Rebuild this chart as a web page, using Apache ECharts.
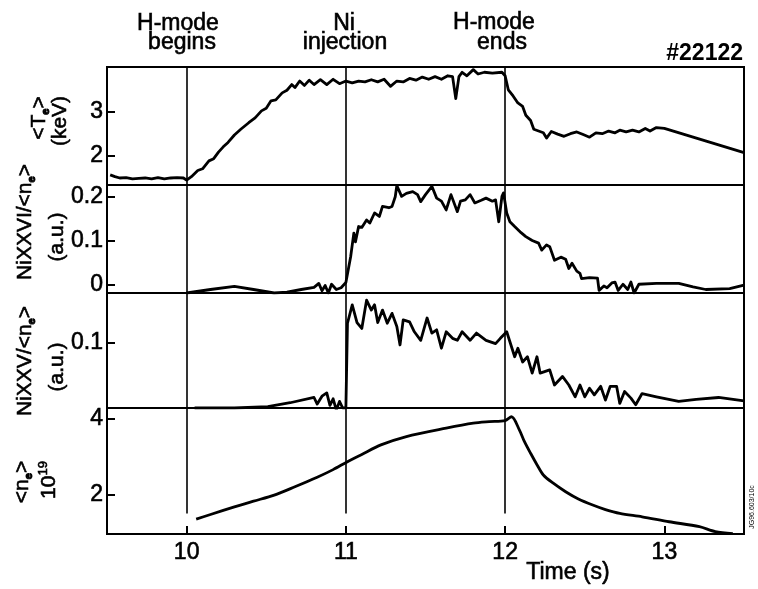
<!DOCTYPE html>
<html>
<head>
<meta charset="utf-8">
<script src="https://cdn.jsdelivr.net/npm/echarts@6/dist/echarts.min.js"></script>
<style>
html,body{margin:0;padding:0;background:#fff;}
#chart{width:758px;height:589px;}
</style>
</head>
<body>
<div id="chart"></div>
<script>
// ---- data (time in s) ----
const timeMin = 9.5, timeMax = 13.5;
const timeTicks = [10, 11, 12, 13];
const eventTimes = [10, 11, 12];
const eventLabels = [["H-mode", "begins"], ["Ni", "injection"], ["H-mode", "ends"]];
const shotLabel = "#22122";

// <Te> (keV)
const teData = [[9.52,1.56],[9.55,1.52],[9.58,1.49],[9.62,1.50],[9.66,1.47],[9.70,1.48],[9.74,1.49],[9.78,1.47],[9.82,1.50],[9.86,1.47],[9.90,1.49],[9.94,1.50],[9.98,1.49],[10.0,1.44],
[10.03,1.52],[10.07,1.66],[10.10,1.70],[10.14,1.88],[10.17,1.93],[10.20,2.08],[10.23,2.20],[10.26,2.30],[10.30,2.47],[10.34,2.60],[10.39,2.75],[10.43,2.86],[10.47,3.02],[10.50,3.08],[10.53,3.25],[10.56,3.27],[10.60,3.43],[10.63,3.49],[10.66,3.62],
[10.68,3.55],[10.71,3.70],[10.74,3.60],[10.77,3.72],[10.80,3.62],[10.84,3.73],[10.88,3.62],[10.92,3.74],[10.96,3.64],[11.0,3.70],[11.04,3.66],[11.08,3.70],[11.12,3.68],[11.16,3.73],[11.20,3.68],[11.24,3.74],[11.28,3.58],[11.32,3.70],[11.36,3.68],[11.40,3.76],[11.44,3.72],[11.48,3.79],[11.52,3.74],[11.56,3.80],[11.60,3.74],[11.64,3.82],[11.67,3.80],[11.69,3.30],[11.71,3.80],[11.73,3.90],[11.76,3.82],[11.80,3.96],[11.83,3.86],[11.87,3.90],[11.92,3.88],[11.98,3.90],[12.0,3.82],
[12.02,3.50],[12.05,3.36],[12.08,3.20],[12.11,3.12],[12.13,2.92],[12.16,2.80],[12.18,2.60],[12.21,2.56],[12.24,2.52],[12.26,2.40],[12.29,2.55],[12.33,2.49],[12.37,2.44],[12.41,2.50],[12.45,2.54],[12.49,2.48],[12.53,2.42],[12.57,2.52],[12.61,2.50],[12.65,2.56],[12.69,2.52],[12.72,2.58],[12.76,2.54],[12.80,2.58],[12.84,2.54],[12.88,2.62],[12.91,2.56],[12.95,2.64],[13.0,2.62],[13.5,2.07]];

// NiXXVI/<ne> (a.u.)
const ni26Data = [[10.0,-0.02],[10.15,-0.012],[10.30,-0.005],[10.42,-0.012],[10.55,-0.02],[10.63,-0.018],[10.72,-0.012],[10.80,-0.007],[10.83,0.002],[10.85,-0.015],[10.87,-0.003],[10.89,-0.02],[10.91,0.0],[10.94,-0.012],[10.97,-0.008],[11.0,0.004],
[11.03,0.063],[11.05,0.117],[11.06,0.097],[11.08,0.132],[11.10,0.130],[11.13,0.147],[11.15,0.140],[11.18,0.163],[11.21,0.155],[11.23,0.178],[11.27,0.175],[11.29,0.178],[11.31,0.200],[11.32,0.226],[11.35,0.201],[11.38,0.208],[11.42,0.212],[11.45,0.205],[11.47,0.189],[11.50,0.205],[11.54,0.224],[11.57,0.197],[11.60,0.190],[11.63,0.170],[11.66,0.205],[11.70,0.166],[11.72,0.190],[11.75,0.193],[11.78,0.205],[11.81,0.186],[11.85,0.192],[11.88,0.197],[11.92,0.190],[11.94,0.193],[11.96,0.143],[11.98,0.201],[11.99,0.209],
[12.01,0.163],[12.03,0.143],[12.06,0.132],[12.10,0.118],[12.13,0.109],[12.17,0.100],[12.21,0.094],[12.23,0.078],[12.26,0.090],[12.28,0.086],[12.31,0.055],[12.35,0.062],[12.38,0.057],[12.40,0.036],[12.42,0.048],[12.45,0.030],[12.47,0.025],[12.48,0.013],[12.53,0.015],[12.58,0.014],[12.59,-0.014],[12.62,-0.004],[12.64,-0.008],[12.67,0.003],[12.69,0.005],[12.71,-0.014],[12.74,0.0],[12.77,-0.012],[12.79,0.005],[12.81,-0.02],[12.84,0.0],[12.95,0.002],[13.09,0.002],[13.18,-0.006],[13.26,-0.012],[13.41,-0.010],[13.5,-0.002]];

// NiXXV/<ne> (a.u.)
const ni25Data = [[10.05,0.0],[10.3,0.0],[10.51,0.002],[10.65,0.008],[10.80,0.016],[10.82,0.006],[10.85,0.018],[10.88,0.023],[10.90,0.004],[10.92,0.014],[10.94,-0.003],[10.96,0.01],[10.98,0.0],[11.0,0.0],
[11.01,0.129],[11.04,0.157],[11.07,0.130],[11.10,0.121],[11.13,0.164],[11.16,0.149],[11.18,0.157],[11.20,0.130],[11.23,0.149],[11.26,0.129],[11.29,0.144],[11.32,0.124],[11.34,0.096],[11.36,0.134],[11.40,0.131],[11.43,0.116],[11.47,0.103],[11.51,0.137],[11.54,0.114],[11.57,0.119],[11.60,0.091],[11.63,0.116],[11.67,0.106],[11.70,0.103],[11.73,0.116],[11.78,0.103],[11.82,0.114],[11.88,0.103],[11.94,0.098],[11.97,0.106],[12.01,0.116],
[12.02,0.119],[12.06,0.078],[12.08,0.091],[12.11,0.070],[12.14,0.078],[12.17,0.053],[12.20,0.078],[12.22,0.053],[12.28,0.058],[12.31,0.035],[12.36,0.048],[12.40,0.035],[12.44,0.017],[12.47,0.035],[12.50,0.017],[12.53,0.030],[12.56,0.020],[12.60,0.033],[12.63,0.012],[12.66,0.033],[12.70,0.033],[12.72,0.007],[12.75,0.025],[12.79,0.015],[12.82,0.005],[12.86,0.022],[12.95,0.017],[13.09,0.010],[13.2,0.013],[13.34,0.016],[13.5,0.011]];

// <ne> (10^19 m^-3)
const neData = [[10.06,1.35],[10.15,1.47],[10.30,1.67],[10.42,1.82],[10.55,1.98],[10.68,2.20],[10.82,2.45],[10.92,2.65],[11.01,2.86],[11.10,3.05],[11.22,3.30],[11.38,3.52],[11.63,3.74],[11.80,3.87],[11.90,3.91],[12.0,3.94],[12.04,4.04],[12.09,3.69],[12.12,3.40],[12.16,3.08],[12.20,2.78],[12.24,2.51],[12.30,2.30],[12.38,2.07],[12.46,1.88],[12.55,1.72],[12.63,1.60],[12.72,1.50],[12.86,1.41],[13.03,1.28],[13.22,1.15],[13.32,1.02],[13.43,0.97]];

// y axes: ranges and tick values
const yRanges = [[1.33, 4.02], [-0.02, 0.227], [0, 0.175], [0.958, 4.27]];
const yTicks = [[2, 3], [0, 0.1, 0.2], [0.1], [2, 4]];
const neEventLineEnd = 1.5;

const FONT = "'Liberation Sans', Arial, Helvetica, sans-serif";
const grids = [
  {top: 67, height: 118},
  {top: 185, height: 108},
  {top: 293, height: 115},
  {top: 408, height: 126}
];
const seriesData = [teData, ni26Data, ni25Data, neData];

const chart = echarts.init(document.getElementById('chart'));

const labelCommon = {color: '#000', fontSize: 23, fontFamily: FONT, textBorderColor: '#000', textBorderWidth: 0.6};

const option = {
  animation: false,
  backgroundColor: '#fff',
  grid: grids.map(g => ({left: 107, right: 14, top: g.top, height: g.height, show: true, borderColor: '#000', borderWidth: 2, backgroundColor: 'transparent'})),
  xAxis: grids.map((g, i) => ({
    type: 'value', gridIndex: i, min: timeMin, max: timeMax,
    axisLine: {show: false},
    splitLine: {show: false},
    axisTick: {show: i === 3, inside: true, length: 8, lineStyle: {color: '#000', width: 2}, customValues: timeTicks},
    axisLabel: Object.assign({show: i === 3, customValues: timeTicks, margin: 7}, labelCommon)
  })),
  yAxis: grids.map((g, i) => ({
    type: 'value', gridIndex: i, min: yRanges[i][0], max: yRanges[i][1],
    axisLine: {show: false},
    splitLine: {show: false},
    axisTick: {show: true, inside: true, length: 8, lineStyle: {color: '#000', width: 2}, customValues: yTicks[i]},
    axisLabel: Object.assign({show: true, customValues: yTicks[i], margin: 4}, labelCommon)
  })),
  series: seriesData.map((d, i) => ({
    type: 'line', xAxisIndex: i, yAxisIndex: i, data: d, symbol: 'none',
    smooth: i === 3 ? 0.3 : false,
    lineStyle: {color: '#000', width: 2.8, join: 'round'},
    markLine: {
      silent: true, symbol: 'none', label: {show: false},
      lineStyle: {color: '#000', width: 1.6, type: 'solid'},
      data: i < 3 ? eventTimes.map(t => ({xAxis: t}))
                  : eventTimes.map(t => [{coord: [t, yRanges[3][1]]}, {coord: [t, neEventLineEnd]}])
    }
  })),
  graphic: []
};

const G = option.graphic;
const SW = 0.6;
function txt(x, y, text, size) {
  G.push({type: 'text', x: x, y: y, silent: true,
    style: {text: text, fill: '#000', stroke: '#000', lineWidth: SW, fontSize: size, fontFamily: FONT, align: 'center', verticalAlign: 'middle'}});
}
function rtxt(x, y, text, size, rich) {
  G.push({type: 'text', x: x, y: y, rotation: Math.PI / 2, silent: true,
    style: {text: text, fill: '#000', stroke: '#000', lineWidth: SW, fontSize: size, fontFamily: FONT, align: 'center', verticalAlign: 'middle', rich: rich || {}}});
}
// event annotations
txt(178, 24, eventLabels[0][0], 23);
txt(182, 43, eventLabels[0][1], 23);
txt(344, 24, eventLabels[1][0], 23);
txt(345, 43, eventLabels[1][1], 23);
txt(494, 23, eventLabels[2][0], 23);
txt(502, 43, eventLabels[2][1], 23);
G.push({type: 'text', x: 743, y: 54, silent: true, style: {text: shotLabel, fill: '#000', fontSize: 23, fontWeight: 'bold', fontFamily: FONT, align: 'right', verticalAlign: 'middle'}});
// x axis title
txt(568, 573, 'Time (s)', 23);

// y axis titles (rotated)
const richSub = {
  a: {fontSize: 21, fontFamily: FONT, fill: '#000', stroke: '#000', lineWidth: SW, lineHeight: 24},
  s: {fontSize: 11, fontFamily: FONT, fontWeight: 'bold', fill: '#000', stroke: '#000', lineWidth: 1, verticalAlign: 'bottom', lineHeight: 24}
};
const richSup = {
  a: {fontSize: 21, fontFamily: FONT, fill: '#000', stroke: '#000', lineWidth: SW, lineHeight: 24},
  p: {fontSize: 13, fontFamily: FONT, fill: '#000', stroke: '#000', lineWidth: SW, verticalAlign: 'top', lineHeight: 24}
};
rtxt(39, 118, '{a|<T}{s|e}{a|>}', 21, richSub);
rtxt(60, 121, '(keV)', 21);
rtxt(25, 222, '{a|NiXXVI/<n}{s|e}{a|>}', 21, richSub);
rtxt(57, 237, '(a.u.)', 21);
rtxt(25, 361, '{a|NiXXV/<n}{s|e}{a|>}', 21, richSub);
rtxt(57, 367, '(a.u.)', 21);
rtxt(22, 482, '{a|<n}{s|e}{a|>}', 21, richSub);
rtxt(49, 480, '{a|10}{p|19}', 21, richSup);
// figure code (small, rotated)
G.push({type: 'text', x: 752, y: 507, rotation: Math.PI / 2, silent: true,
  style: {text: 'JG96.603/10c', fill: '#000', fontSize: 7, fontFamily: FONT, align: 'center', verticalAlign: 'middle'}});

chart.setOption(option);
</script>
</body>
</html>
